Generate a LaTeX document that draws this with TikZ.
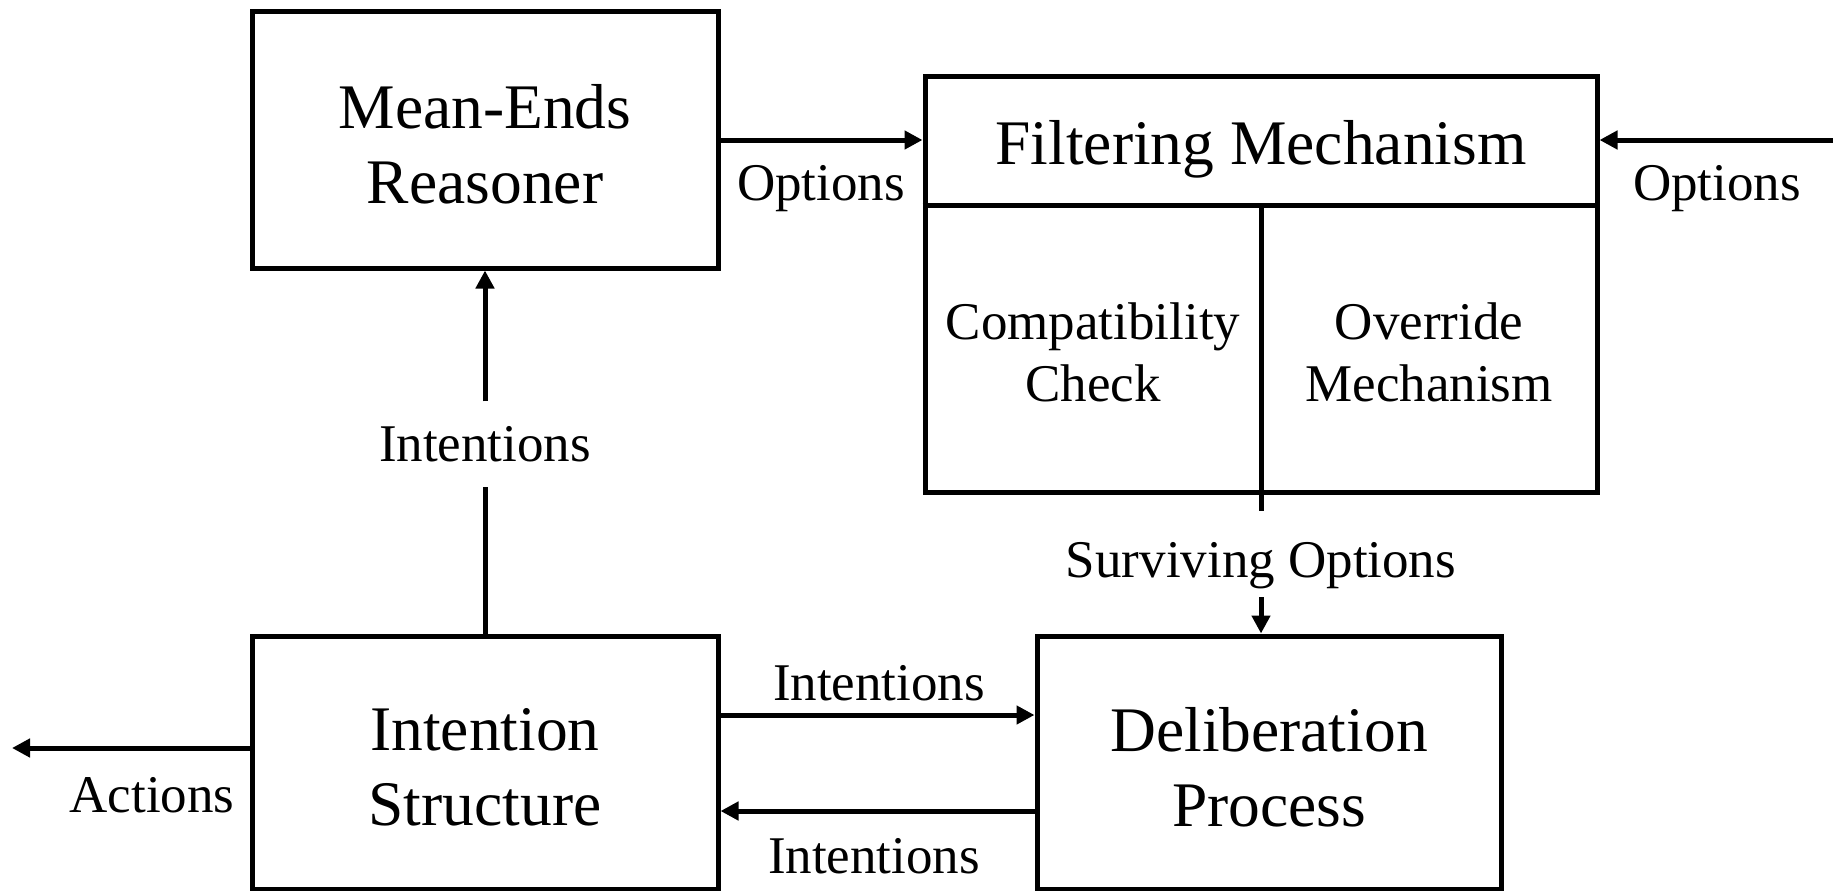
\documentclass[tikz,border=0pt]{standalone}
\usepackage{fontspec}
\setmainfont{Liberation Serif}
\usetikzlibrary{arrows.meta}

\tikzset{
  block/.style={draw, line width=5pt, inner sep=0pt},
  big/.style={inner sep=0pt, align=center, font=\fontsize{63.5}{75}\selectfont},
  lbl/.style={inner sep=0pt, align=center, font=\fontsize{53}{62}\selectfont},
  arr/.style={line width=5pt, -{Triangle[length=18pt,width=18pt]}},
}

\begin{document}
\begin{tikzpicture}[x=1pt, y=-1pt]
		% Page frame
		\useasboundingbox (0,0) rectangle (1833,891);

		% Boxes
		\node[block, minimum width=466pt, minimum height=256pt] (mer) at (485,140) {};
		\node[block, minimum width=672pt, minimum height=416pt] (filt) at (1261,284) {};
		\node[block, minimum width=466pt, minimum height=253pt] (is) at (485,762.5) {};
		\node[block, minimum width=464pt, minimum height=253pt] (dp) at (1269,762.5) {};

		% Box texts
		\node[big] (mertxt) at (485,144) {Mean-Ends\\Reasoner};
		\node[big] (istxt) at (485,767) {Intention\\Structure};
		\node[big] (dptxt) at (1269,767) {Deliberation\\Process};

		% Inside of the filter
		\draw[line width=5pt] (filt.west |- 0,205) -- (filt.east |- 0,205);
		\node[big] (fm) at (1261,149) {Filtering Mechanism};
		\node[lbl] (cc) at (1093,352) {Compatibility\\Check};
		\node[lbl] (om) at (1429,352) {Override\\Mechanism};

		% Arrows and their labels
		\draw[arr] (mer.east) -- (mer.east -| filt.west);
		\node[lbl] (opl) at (821,189) {Options};

		\coordinate (optin) at (1833,140);
		\draw[arr] (optin) -- (filt.east |- optin);
		\node[lbl] (opr) at (1717,189) {Options};

		\node[lbl, minimum height=85pt] (inup) at (485,444) {Intentions};
		\draw[line width=5pt] (is.north) -- (inup.south);
		\draw[arr] (inup.north) -- (mer.south);

		\node[lbl, minimum height=86pt] (sv) at (1261,566) {Surviving Options};
		\draw[line width=5pt] (1261,205) -- ([yshift=12pt]sv.north);
		\draw[arr] ([yshift=12pt]sv.south) -- (sv.south |- dp.north);

		\draw[arr] (is.east |- 0,715) -- (dp.west |- 0,715);
		\node[lbl] (into) at (879,683) {Intentions};
		\draw[arr] (dp.west |- 0,811) -- (is.east |- 0,811);
		\node[lbl] (inback) at (874,856) {Intentions};

		\coordinate (actout) at (12,748);
		\draw[arr] (is.west |- actout) -- (actout);
		\node[lbl] (act) at (152,795) {Actions};
	\end{tikzpicture}
\end{document}
